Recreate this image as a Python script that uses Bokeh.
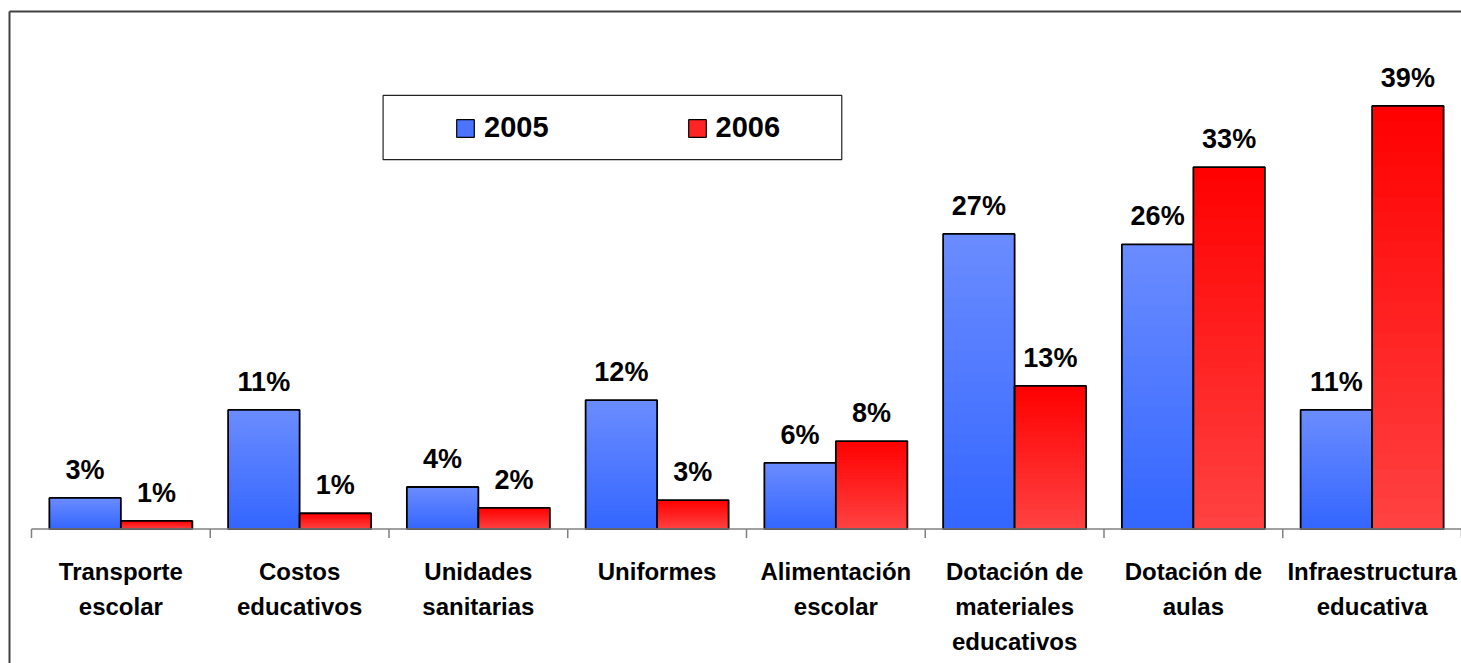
from bokeh.plotting import figure
from bokeh.models import (Range1d, FixedTicker, BoxAnnotation, Legend, LegendItem,
                          ColumnDataSource)
from bokeh.core.properties import value
from bokeh.embed import file_html
from bokeh.resources import INLINE
import math

# ---------------- data ----------------
categories = ["Transporte\nescolar", "Costos\neducativos", "Unidades\nsanitarias",
              "Uniformes", "Alimentación\nescolar", "Dotación de\nmateriales\neducativos",
              "Dotación de\naulas", "Infraestructura\neducativa"]
series_names = ["2005", "2006"]
values_2005 = [2.85, 10.9, 3.85, 11.8, 6.05, 27.0, 26.05, 10.9]
values_2006 = [0.75, 1.45, 1.95, 2.65, 8.05, 13.1, 33.1, 38.7]
labels_2005 = ["3%", "11%", "4%", "12%", "6%", "27%", "26%", "11%"]
labels_2006 = ["1%", "1%", "2%", "3%", "8%", "13%", "33%", "39%"]

# ---------------- styling ----------------
BLUE_TOP, BLUE_BOT = (107, 140, 255), (51, 102, 255)
RED_TOP, RED_BOT = (255, 0, 0), (255, 66, 66)
N_SLICES = 28
BAR_W = 0.4
FONT = value("Liberation Sans")

p = figure(width=1461, height=663, output_backend="svg", toolbar_location=None,
           x_range=Range1d(-0.123, 8.0), y_range=Range1d(-12.29, 47.34),
           x_axis_location="above", y_axis_location="left",
           min_border_left=9, min_border_right=0, min_border_top=11, min_border_bottom=0)
p.grid.visible = False
p.outline_line_color = None
p.background_fill_color = "white"
p.border_fill_color = "white"

for ax in (p.xaxis[0], p.yaxis[0]):
    ax.ticker = FixedTicker(ticks=[])
    ax.major_label_text_font_size = "0px"
    ax.major_tick_line_color = None
    ax.minor_tick_line_color = None
    ax.axis_line_color = "#404040"
    ax.axis_line_width = 2


def mix(c_bot, c_top, f):
    r = [round(c_bot[k] + (c_top[k] - c_bot[k]) * f) for k in range(3)]
    return "#%02x%02x%02x" % tuple(r)


n = len(categories)
centers = [i + 0.5 for i in range(n)]
x_2005 = [c - BAR_W / 2 for c in centers]
x_2006 = [c + BAR_W / 2 for c in centers]


def gradient_bars(xs, vals, c_bot, c_top, legend_color):
    # invisible series renderer (used for the legend swatch)
    series = p.vbar(x=xs, top=vals, bottom=0, width=BAR_W, fill_color=legend_color,
                    line_color="black", line_width=1.2, visible=False)
    xx, tops, cols = [], [], []
    for s in range(N_SLICES):
        frac = (N_SLICES - s) / N_SLICES
        f_col = (N_SLICES - s - 0.5) / N_SLICES
        for x, v in zip(xs, vals):
            xx.append(x)
            tops.append(v * frac)
            cols.append(mix(c_bot, c_top, f_col))
    src = ColumnDataSource(dict(x=xx, top=tops, color=cols))
    p.vbar(x="x", top="top", bottom=0, width=BAR_W, fill_color="color",
           line_color=None, source=src)
    p.vbar(x=xs, top=vals, bottom=0, width=BAR_W, fill_color=None,
           line_color="black", line_width=1.8)
    return series


r_a = gradient_bars(x_2005, values_2005, BLUE_BOT, BLUE_TOP, "#4a74ff")
r_b = gradient_bars(x_2006, values_2006, RED_BOT, RED_TOP, "#ff2424")

# baseline and tick marks at category boundaries
bounds = list(range(n + 1))
p.line(x=[bounds[0], bounds[-1]], y=[0, 0], line_color="#808080", line_width=1.5)
p.ray(x=bounds, y=[0] * len(bounds), length=9, length_units="screen",
      angle=-math.pi / 2, line_color="#808080", line_width=1.5)

# value labels
for xs, vals, labs in ((x_2005, values_2005, labels_2005), (x_2006, values_2006, labels_2006)):
    p.text(x=xs, y=vals, text=labs, text_align="center",
           text_baseline="alphabetic", y_offset=-28, text_font=FONT,
           text_font_size="27px", text_font_style="bold", text_color="black")

# category labels
p.text(x=centers, y=[0] * n, text=categories, text_align="center",
       text_baseline="top", y_offset=29, text_font=FONT,
       text_font_size="24px", text_font_style="bold", text_color="black",
       text_line_height=1.29)

# legend
legend = Legend(items=[LegendItem(label=series_names[0], renderers=[r_a]),
                       LegendItem(label=series_names[1], renderers=[r_b])],
                orientation="horizontal", location=(445, 519), padding=0, margin=0,
                spacing=137, glyph_width=22, glyph_height=22, label_standoff=8,
                border_line_alpha=0, background_fill_alpha=0,
                inactive_fill_alpha=0,
                label_text_font="Liberation Sans", label_text_font_size="29px",
                label_text_font_style="bold", label_text_color="black")
p.add_layout(legend, "center")
p.add_layout(BoxAnnotation(left=1.967, right=4.533, bottom=33.79, top=39.66,
                           fill_alpha=0, line_color="#222222", line_alpha=1.0,
                           line_width=1.2))

open("out.html", "w").write(file_html(p, INLINE))
